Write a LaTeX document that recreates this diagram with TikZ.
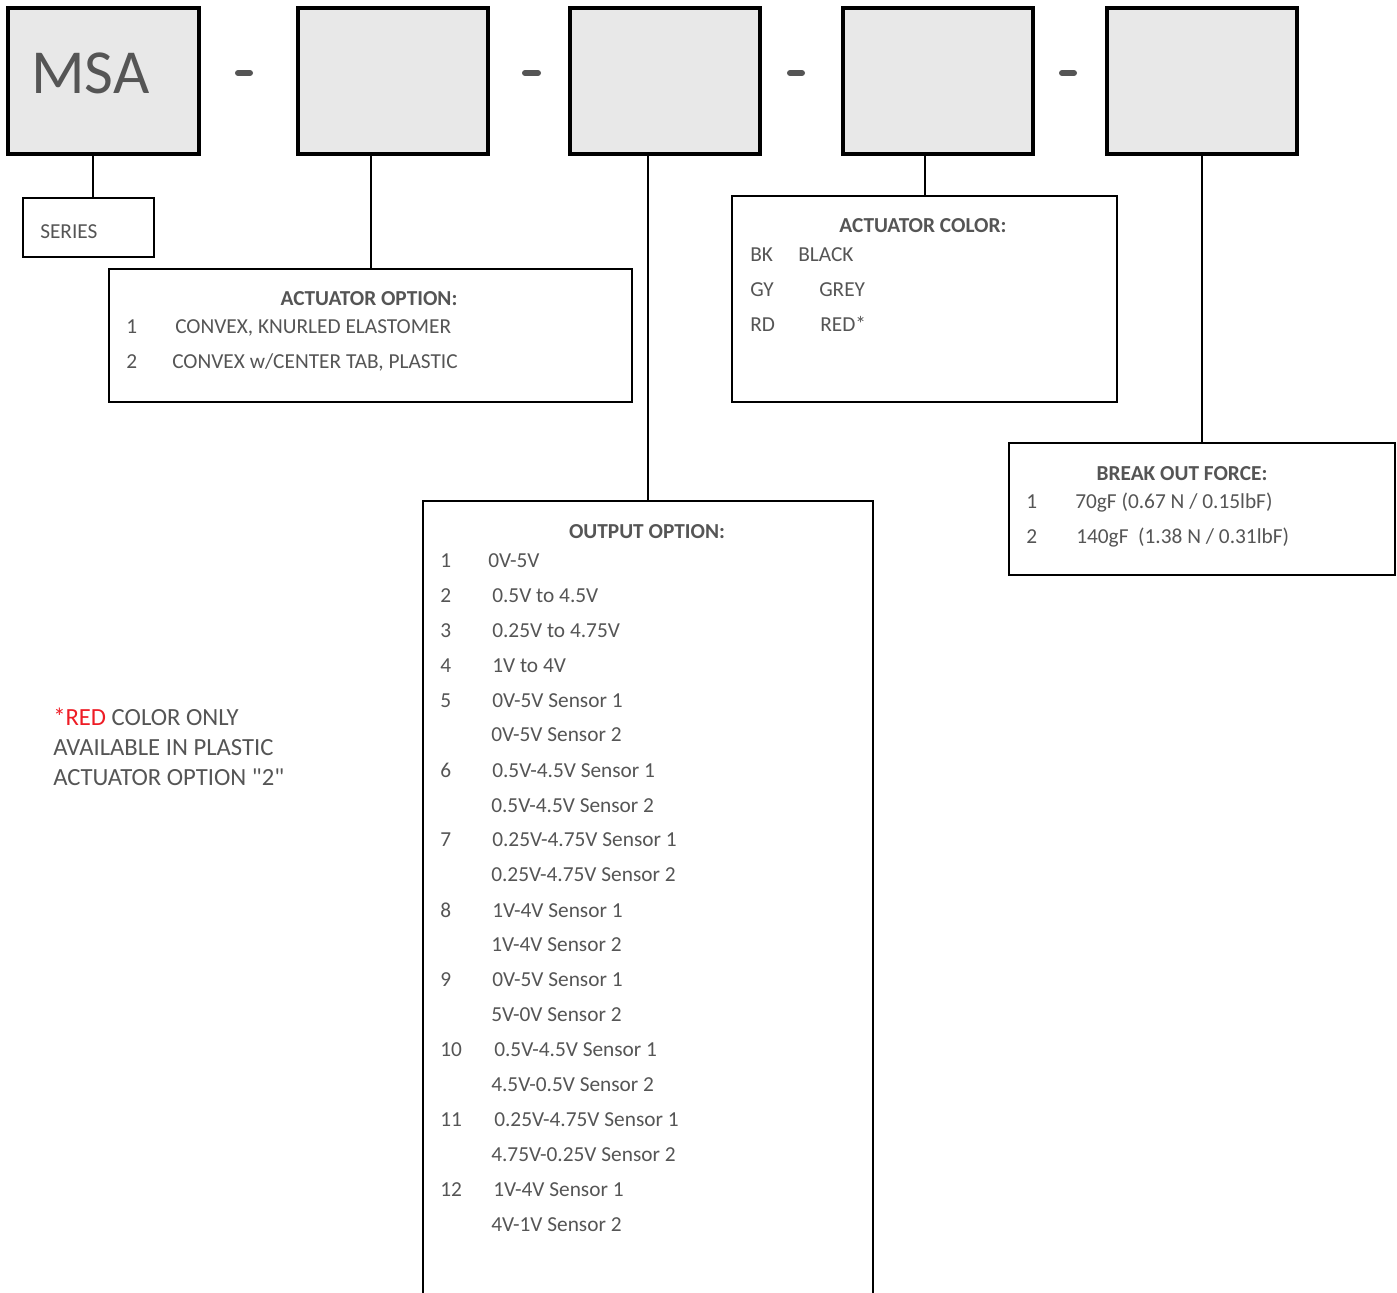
\documentclass[tikz,border=0pt]{standalone}
\usepackage{fontspec}
\setmainfont{Carlito}
\newfontfamily\rawfont{Carlito}[Ligatures=ResetAll]
\usetikzlibrary{fit}
\definecolor{txt}{HTML}{555555}
\definecolor{boxfill}{HTML}{E8E8E8}
\definecolor{redtxt}{HTML}{EE1C25}
\begin{document}
\begin{tikzpicture}[x=0.75pt,y=-0.75pt,
  topbox/.style={draw=black,line width=2.6pt,fill=boxfill,inner sep=0pt},
  infobox/.style={draw=black,line width=1.5pt,fill=white,inner sep=0pt},
  conn/.style={draw=black,line width=1.5pt},
  sep/.style={draw=txt,line width=4.5pt,line cap=round},
  lbl/.style={text=txt,font=\fontsize{16}{19}\selectfont,anchor=base west,inner sep=0pt},
  note/.style={text=txt,font=\fontsize{18.5}{22}\selectfont,anchor=base west,inner sep=0pt},
  ttl/.style={text=txt,font=\fontsize{16}{19}\selectfont\bfseries,anchor=base,inner sep=0pt}]
\clip (0,0) rectangle (1397,1293);
\useasboundingbox (0,0) rectangle (1397,1293);
% top boxes
\node[topbox,fit={(8,8) (199,154)}] (b1) {};
\node[topbox,fit={(298,8) (488,154)}] (b2) {};
\node[topbox,fit={(570,8) (760,154)}] (b3) {};
\node[topbox,fit={(843,8) (1033,154)}] (b4) {};
\node[topbox,fit={(1107,8) (1297,154)}] (b5) {};
\node[text=txt,font=\fontsize{47}{54}\selectfont,anchor=base west,inner sep=0pt] (msa) at (31,93) {MSA};
% separators
\coordinate (d1a) at (238,73); \coordinate (d1b) at (250,73);
\coordinate (d2a) at (525,73); \coordinate (d2b) at (538,73);
\coordinate (d3a) at (790,73); \coordinate (d3b) at (802,73);
\coordinate (d4a) at (1062,73); \coordinate (d4b) at (1074,73);
\draw[sep] (d1a) -- (d1b);
\draw[sep] (d2a) -- (d2b);
\draw[sep] (d3a) -- (d3b);
\draw[sep] (d4a) -- (d4b);
% info boxes
\node[infobox,fit={(23,198) (154,257)}] (series) {};
\node[lbl] (seriest) at (40,238) {SERIES};
\node[infobox,fit={(109,269) (632,402)}] (act) {};
\node[infobox,fit={(423,501) (873,1320)}] (out) {};
\node[infobox,fit={(732,196) (1117,402)}] (col) {};
\node[infobox,fit={(1009,443) (1395,575)}] (brk) {};
% connectors
\draw[conn] ([xshift=-10.5*0.75pt]b1.south) -- ([xshift=4.5*0.75pt]series.north);
\draw[conn] (b2.south -| act.north) -- (act.north);
\draw[conn] (b3.south -| out.north) -- (out.north);
\draw[conn] (b4.south -| col.north) -- (col.north);
\draw[conn] (b5.south -| brk.north) -- (brk.north);
% actuator option
\node[ttl] (actt) at (369,305) {ACTUATOR OPTION:};
\node[lbl] (a1n) at (126,333) {1};
\node[lbl] (a1t) at (175,333) {CONVEX, KNURLED ELASTOMER};
\node[lbl] (a2n) at (126,368) {2};
\node[lbl] (a2t) at (172,368) {CONVEX w/CENTER TAB, PLASTIC};
% actuator color
\node[ttl] (colt) at (923,232) {ACTUATOR COLOR:};
\node[lbl] (c1n) at (750,261) {BK};
\node[lbl] (c1t) at (798,261) {BLACK};
\node[lbl] (c2n) at (750,296) {GY};
\node[lbl] (c2t) at (819,296) {GREY};
\node[lbl] (c3n) at (750,331) {RD};
\node[lbl] (c3t) at (820,331) {RED*};
% break out force
\node[ttl] (brkt) at (1182,480) {BREAK OUT FORCE:};
\node[lbl] (f1n) at (1026,508) {1};
\node[lbl] (f1t) at (1075,508) {70gF (0.67 N / 0.15lbF)};
\node[lbl] (f2n) at (1026,543) {2};
\node[lbl] (f2t) at (1076,543) {140gF\ \ (1.38 N / 0.31lbF)};
% output option
\node[ttl] (outt) at (647,538) {OUTPUT OPTION:};
\node[lbl] (o1n) at (440,567) {1};   \node[lbl] (o1t) at (488,567) {0V-5V};
\node[lbl] (o2n) at (440,602) {2};   \node[lbl] (o2t) at (492,602) {0.5V to 4.5V};
\node[lbl] (o3n) at (440,637) {3};   \node[lbl] (o3t) at (492,637) {0.25V to 4.75V};
\node[lbl] (o4n) at (440,672) {4};   \node[lbl] (o4t) at (492,672) {1V to 4V};
\node[lbl] (o5n) at (440,707) {5};   \node[lbl] (o5t) at (492,707) {0V-5V Sensor 1};
\node[lbl] (o5u) at (491,741) {0V-5V Sensor 2};
\node[lbl] (o6n) at (440,777) {6};   \node[lbl] (o6t) at (492,777) {0.5V-4.5V Sensor 1};
\node[lbl] (o6u) at (491,812) {0.5V-4.5V Sensor 2};
\node[lbl] (o7n) at (440,846) {7};   \node[lbl] (o7t) at (492,846) {0.25V-4.75V Sensor 1};
\node[lbl] (o7u) at (491,881) {0.25V-4.75V Sensor 2};
\node[lbl] (o8n) at (440,917) {8};   \node[lbl] (o8t) at (492,917) {1V-4V Sensor 1};
\node[lbl] (o8u) at (491,951) {1V-4V Sensor 2};
\node[lbl] (o9n) at (440,986) {9};   \node[lbl] (o9t) at (492,986) {0V-5V Sensor 1};
\node[lbl] (o9u) at (491,1021) {5V-0V Sensor 2};
\node[lbl] (o10n) at (440,1056) {10}; \node[lbl] (o10t) at (494,1056) {0.5V-4.5V Sensor 1};
\node[lbl] (o10u) at (491,1091) {4.5V-0.5V Sensor 2};
\node[lbl] (o11n) at (440,1126) {11}; \node[lbl] (o11t) at (494,1126) {0.25V-4.75V Sensor 1};
\node[lbl] (o11u) at (491,1161) {4.75V-0.25V Sensor 2};
\node[lbl] (o12n) at (440,1196) {12}; \node[lbl] (o12t) at (493,1196) {1V-4V Sensor 1};
\node[lbl] (o12u) at (491,1231) {4V-1V Sensor 2};
% note
\node[note] (n1) at (53,725) {\textcolor{redtxt}{*RED} COLOR ONLY};
\node[note] (n2) at (53,755) {AVAILABLE IN PLASTIC};
\node[note] (n3) at (53,785) {ACTUATOR OPTION {\rawfont "2"}};
\end{tikzpicture}
\end{document}
